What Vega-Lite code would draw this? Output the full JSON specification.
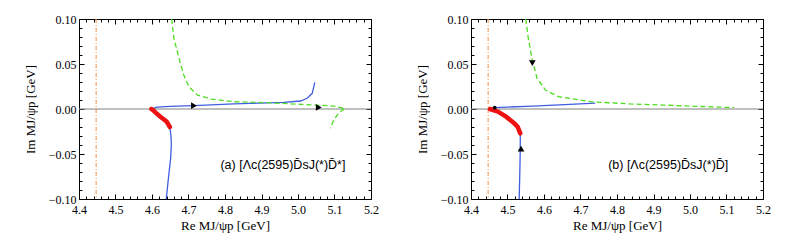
{
  "$schema": "https://vega.github.io/schema/vega-lite/v6.json",
  "background": "white",
  "padding": {"left": 23, "top": 12, "right": 5, "bottom": 5},
  "spacing": 36,
  "datasets": {
    "curves": [
      {"panel": "a", "series": "blue1", "o": 1, "x": 4.639, "y": -0.100},
      {"panel": "a", "series": "blue1", "o": 2, "x": 4.646, "y": -0.073},
      {"panel": "a", "series": "blue1", "o": 3, "x": 4.651, "y": -0.055},
      {"panel": "a", "series": "blue1", "o": 4, "x": 4.653, "y": -0.040},
      {"panel": "a", "series": "blue1", "o": 5, "x": 4.652, "y": -0.030},
      {"panel": "a", "series": "blue1", "o": 6, "x": 4.649, "y": -0.020},
      {"panel": "a", "series": "red", "o": 1, "x": 4.649, "y": -0.020},
      {"panel": "a", "series": "red", "o": 2, "x": 4.640, "y": -0.014},
      {"panel": "a", "series": "red", "o": 3, "x": 4.623, "y": -0.0085},
      {"panel": "a", "series": "red", "o": 4, "x": 4.610, "y": -0.004},
      {"panel": "a", "series": "red", "o": 5, "x": 4.602, "y": -0.001},
      {"panel": "a", "series": "red", "o": 6, "x": 4.598, "y": 0.000},
      {"panel": "a", "series": "blue2", "o": 1, "x": 4.598, "y": 0.000},
      {"panel": "a", "series": "blue2", "o": 2, "x": 4.614, "y": 0.0022},
      {"panel": "a", "series": "blue2", "o": 3, "x": 4.650, "y": 0.0030},
      {"panel": "a", "series": "blue2", "o": 4, "x": 4.715, "y": 0.0037},
      {"panel": "a", "series": "blue2", "o": 5, "x": 4.824, "y": 0.0056},
      {"panel": "a", "series": "blue2", "o": 6, "x": 4.961, "y": 0.0074},
      {"panel": "a", "series": "blue2", "o": 7, "x": 5.007, "y": 0.0089},
      {"panel": "a", "series": "blue2", "o": 8, "x": 5.025, "y": 0.0119},
      {"panel": "a", "series": "blue2", "o": 9, "x": 5.039, "y": 0.0174},
      {"panel": "a", "series": "blue2", "o": 10, "x": 5.046, "y": 0.0296},
      {"panel": "a", "series": "green1", "o": 1, "x": 4.654, "y": 0.100},
      {"panel": "a", "series": "green1", "o": 2, "x": 4.660, "y": 0.0785},
      {"panel": "a", "series": "green1", "o": 3, "x": 4.674, "y": 0.0563},
      {"panel": "a", "series": "green1", "o": 4, "x": 4.687, "y": 0.0378},
      {"panel": "a", "series": "green1", "o": 5, "x": 4.701, "y": 0.0248},
      {"panel": "a", "series": "green1", "o": 6, "x": 4.724, "y": 0.0156},
      {"panel": "a", "series": "green1", "o": 7, "x": 4.760, "y": 0.0111},
      {"panel": "a", "series": "green1", "o": 8, "x": 4.824, "y": 0.0081},
      {"panel": "a", "series": "green1", "o": 9, "x": 4.915, "y": 0.0070},
      {"panel": "a", "series": "green1", "o": 10, "x": 5.007, "y": 0.0052},
      {"panel": "a", "series": "green1", "o": 11, "x": 5.098, "y": 0.0033},
      {"panel": "a", "series": "green1", "o": 12, "x": 5.127, "y": 0.0007},
      {"panel": "a", "series": "green2", "o": 1, "x": 5.127, "y": 0.0003},
      {"panel": "a", "series": "green2", "o": 2, "x": 5.111, "y": -0.0048},
      {"panel": "a", "series": "green2", "o": 3, "x": 5.098, "y": -0.012},
      {"panel": "a", "series": "green2", "o": 4, "x": 5.089, "y": -0.0215},
      {"panel": "b", "series": "blue1", "o": 1, "x": 4.532, "y": -0.100},
      {"panel": "b", "series": "blue1", "o": 2, "x": 4.534, "y": -0.066},
      {"panel": "b", "series": "blue1", "o": 3, "x": 4.535, "y": -0.045},
      {"panel": "b", "series": "blue1", "o": 4, "x": 4.535, "y": -0.027},
      {"panel": "b", "series": "red", "o": 1, "x": 4.535, "y": -0.027},
      {"panel": "b", "series": "red", "o": 2, "x": 4.528, "y": -0.020},
      {"panel": "b", "series": "red", "o": 3, "x": 4.519, "y": -0.016},
      {"panel": "b", "series": "red", "o": 4, "x": 4.496, "y": -0.0085},
      {"panel": "b", "series": "red", "o": 5, "x": 4.474, "y": -0.003},
      {"panel": "b", "series": "red", "o": 6, "x": 4.452, "y": 0.000},
      {"panel": "b", "series": "blue2", "o": 1, "x": 4.452, "y": 0.000},
      {"panel": "b", "series": "blue2", "o": 2, "x": 4.465, "y": 0.0015},
      {"panel": "b", "series": "blue2", "o": 3, "x": 4.568, "y": 0.0033},
      {"panel": "b", "series": "blue2", "o": 4, "x": 4.657, "y": 0.0048},
      {"panel": "b", "series": "blue2", "o": 5, "x": 4.740, "y": 0.0065},
      {"panel": "b", "series": "green1", "o": 1, "x": 4.550, "y": 0.100},
      {"panel": "b", "series": "green1", "o": 2, "x": 4.557, "y": 0.0785},
      {"panel": "b", "series": "green1", "o": 3, "x": 4.568, "y": 0.0544},
      {"panel": "b", "series": "green1", "o": 4, "x": 4.581, "y": 0.034},
      {"panel": "b", "series": "green1", "o": 5, "x": 4.604, "y": 0.0211},
      {"panel": "b", "series": "green1", "o": 6, "x": 4.639, "y": 0.0137},
      {"panel": "b", "series": "green1", "o": 7, "x": 4.729, "y": 0.0081},
      {"panel": "b", "series": "green1", "o": 8, "x": 4.836, "y": 0.0056},
      {"panel": "b", "series": "green1", "o": 9, "x": 4.925, "y": 0.0044},
      {"panel": "b", "series": "green1", "o": 10, "x": 5.014, "y": 0.0030},
      {"panel": "b", "series": "green1", "o": 11, "x": 5.121, "y": 0.0015}
    ],
    "marks": [
      {"panel": "a", "x": 4.715, "y": 0.0037, "shape": "triangle-right"},
      {"panel": "a", "x": 5.057, "y": 0.0018, "shape": "triangle-right"},
      {"panel": "b", "x": 4.537, "y": -0.044, "shape": "triangle-up"},
      {"panel": "b", "x": 4.568, "y": 0.051, "shape": "triangle-down"}
    ],
    "dots": [
      {"panel": "b", "x": 4.465, "y": 0.0015}
    ],
    "vlines": [
      {"panel": "a", "x": 4.447},
      {"panel": "b", "x": 4.447}
    ],
    "hlines": [
      {"panel": "a", "y": 0},
      {"panel": "b", "y": 0}
    ],
    "labels": [
      {"panel": "a", "x": 5.13, "y": -0.062, "text": "(a) [Λc(2595)D̄sJ(*)D̄*]"},
      {"panel": "b", "x": 5.105, "y": -0.062, "text": "(b) [Λc(2595)D̄sJ(*)D̄]"}
    ]
  },
  "hconcat": [
    {
      "width": 292, "height": 180,
      "resolve": {"axis": {"x": "independent", "y": "independent"}},
      "layer": [
        {
          "data": {"name": "vlines"},
          "transform": [{"filter": "datum.panel === 'a'"}],
          "mark": {"type": "rule", "color": "#f2a068", "strokeWidth": 1.2, "strokeDash": [4, 2, 1, 2]},
          "encoding": {
            "x": {"field": "x", "type": "quantitative", "scale": {"domain": [4.4, 5.2], "nice": false, "zero": false},
              "axis": {"orient": "top", "labels": false, "title": null,
                "values": [4.4,4.42,4.44,4.46,4.48,4.5,4.52,4.54,4.56,4.58,4.6,4.62,4.64,4.66,4.68,4.7,4.72,4.74,4.76,4.78,4.8,4.82,4.84,4.86,4.88,4.9,4.92,4.94,4.96,4.98,5.0,5.02,5.04,5.06,5.08,5.1,5.12,5.14,5.16,5.18,5.2],
                "tickSize": {"condition": {"test": "abs(datum.value*10-round(datum.value*10))<0.001", "value": -5}, "value": -3}}}
          }
        },
        {
          "data": {"name": "hlines"},
          "transform": [{"filter": "datum.panel === 'a'"}],
          "mark": {"type": "rule", "color": "#808080", "strokeWidth": 1},
          "encoding": {
            "y": {"field": "y", "type": "quantitative", "scale": {"domain": [-0.1, 0.1], "nice": false, "zero": false},
              "axis": {"orient": "right", "labels": false, "title": null,
                "values": [-0.1,-0.09,-0.08,-0.07,-0.06,-0.05,-0.04,-0.03,-0.02,-0.01,0,0.01,0.02,0.03,0.04,0.05,0.06,0.07,0.08,0.09,0.1],
                "tickSize": {"condition": {"test": "abs(datum.value*20-round(datum.value*20))<0.001", "value": -5}, "value": -3}}}
          }
        },
        {
          "data": {"name": "curves"},
          "transform": [{"filter": "datum.panel === 'a' && (datum.series === 'blue1' || datum.series === 'blue2')"}],
          "mark": {"type": "line", "clip": true, "color": "#3f5fe0", "strokeWidth": 1.3},
          "encoding": {
            "x": {"field": "x", "type": "quantitative", "scale": {"domain": [4.4, 5.2], "nice": false, "zero": false},
              "axis": {"orient": "bottom", "title": "Re MJ/ψp [GeV]",
                "values": [4.4,4.42,4.44,4.46,4.48,4.5,4.52,4.54,4.56,4.58,4.6,4.62,4.64,4.66,4.68,4.7,4.72,4.74,4.76,4.78,4.8,4.82,4.84,4.86,4.88,4.9,4.92,4.94,4.96,4.98,5.0,5.02,5.04,5.06,5.08,5.1,5.12,5.14,5.16,5.18,5.2],
                "labelExpr": "abs(datum.value*10-round(datum.value*10))<0.001 ? format(datum.value, '.1f') : ''",
                "tickSize": {"condition": {"test": "abs(datum.value*10-round(datum.value*10))<0.001", "value": -5}, "value": -3}}},
            "y": {"field": "y", "type": "quantitative", "scale": {"domain": [-0.1, 0.1], "nice": false, "zero": false},
              "axis": {"orient": "left", "title": "Im MJ/ψp [GeV]", "titlePadding": 11,
                "values": [-0.1,-0.09,-0.08,-0.07,-0.06,-0.05,-0.04,-0.03,-0.02,-0.01,0,0.01,0.02,0.03,0.04,0.05,0.06,0.07,0.08,0.09,0.1],
                "labelExpr": "abs(datum.value*20-round(datum.value*20))<0.001 ? format(datum.value, '.2f') : ''",
                "tickSize": {"condition": {"test": "abs(datum.value*20-round(datum.value*20))<0.001", "value": -5}, "value": -3}}},
            "detail": {"field": "series", "type": "nominal"},
            "order": {"field": "o", "type": "quantitative"}
          }
        },
        {
          "data": {"name": "curves"},
          "transform": [{"filter": "datum.panel === 'a' && (datum.series === 'green1' || datum.series === 'green2')"}],
          "mark": {"type": "line", "clip": true, "color": "#4ddc22", "strokeWidth": 1.3, "strokeDash": [5, 3]},
          "encoding": {
            "x": {"field": "x", "type": "quantitative", "axis": null},
            "y": {"field": "y", "type": "quantitative", "axis": null},
            "detail": {"field": "series", "type": "nominal"},
            "order": {"field": "o", "type": "quantitative"}
          }
        },
        {
          "data": {"name": "curves"},
          "transform": [{"filter": "datum.panel === 'a' && datum.series === 'red'"}],
          "mark": {"type": "line", "clip": true, "color": "#ee1111", "strokeWidth": 4.5, "strokeCap": "round"},
          "encoding": {
            "x": {"field": "x", "type": "quantitative", "axis": null},
            "y": {"field": "y", "type": "quantitative", "axis": null},
            "order": {"field": "o", "type": "quantitative"}
          }
        },
        {
          "data": {"name": "marks"},
          "transform": [{"filter": "datum.panel === 'a'"}],
          "mark": {"type": "point", "filled": true, "color": "black", "opacity": 1, "size": 45},
          "encoding": {
            "x": {"field": "x", "type": "quantitative", "axis": null},
            "y": {"field": "y", "type": "quantitative", "axis": null},
            "shape": {"field": "shape", "type": "nominal", "scale": null, "legend": null}
          }
        },
        {
          "data": {"name": "labels"},
          "transform": [{"filter": "datum.panel === 'a'"}],
          "mark": {"type": "text", "align": "right", "baseline": "middle", "font": "Liberation Sans", "fontSize": 12.5, "color": "black"},
          "encoding": {
            "x": {"field": "x", "type": "quantitative", "axis": null},
            "y": {"field": "y", "type": "quantitative", "axis": null},
            "text": {"field": "text"}
          }
        }
      ]
    },
    {
      "width": 292, "height": 180,
      "resolve": {"axis": {"x": "independent", "y": "independent"}},
      "layer": [
        {
          "data": {"name": "vlines"},
          "transform": [{"filter": "datum.panel === 'b'"}],
          "mark": {"type": "rule", "color": "#f2a068", "strokeWidth": 1.2, "strokeDash": [4, 2, 1, 2]},
          "encoding": {
            "x": {"field": "x", "type": "quantitative", "scale": {"domain": [4.4, 5.2], "nice": false, "zero": false},
              "axis": {"orient": "top", "labels": false, "title": null,
                "values": [4.4,4.42,4.44,4.46,4.48,4.5,4.52,4.54,4.56,4.58,4.6,4.62,4.64,4.66,4.68,4.7,4.72,4.74,4.76,4.78,4.8,4.82,4.84,4.86,4.88,4.9,4.92,4.94,4.96,4.98,5.0,5.02,5.04,5.06,5.08,5.1,5.12,5.14,5.16,5.18,5.2],
                "tickSize": {"condition": {"test": "abs(datum.value*10-round(datum.value*10))<0.001", "value": -5}, "value": -3}}}
          }
        },
        {
          "data": {"name": "hlines"},
          "transform": [{"filter": "datum.panel === 'b'"}],
          "mark": {"type": "rule", "color": "#808080", "strokeWidth": 1},
          "encoding": {
            "y": {"field": "y", "type": "quantitative", "scale": {"domain": [-0.1, 0.1], "nice": false, "zero": false},
              "axis": {"orient": "right", "labels": false, "title": null,
                "values": [-0.1,-0.09,-0.08,-0.07,-0.06,-0.05,-0.04,-0.03,-0.02,-0.01,0,0.01,0.02,0.03,0.04,0.05,0.06,0.07,0.08,0.09,0.1],
                "tickSize": {"condition": {"test": "abs(datum.value*20-round(datum.value*20))<0.001", "value": -5}, "value": -3}}}
          }
        },
        {
          "data": {"name": "curves"},
          "transform": [{"filter": "datum.panel === 'b' && (datum.series === 'blue1' || datum.series === 'blue2')"}],
          "mark": {"type": "line", "clip": true, "color": "#3f5fe0", "strokeWidth": 1.3},
          "encoding": {
            "x": {"field": "x", "type": "quantitative", "scale": {"domain": [4.4, 5.2], "nice": false, "zero": false},
              "axis": {"orient": "bottom", "title": "Re MJ/ψp [GeV]",
                "values": [4.4,4.42,4.44,4.46,4.48,4.5,4.52,4.54,4.56,4.58,4.6,4.62,4.64,4.66,4.68,4.7,4.72,4.74,4.76,4.78,4.8,4.82,4.84,4.86,4.88,4.9,4.92,4.94,4.96,4.98,5.0,5.02,5.04,5.06,5.08,5.1,5.12,5.14,5.16,5.18,5.2],
                "labelExpr": "abs(datum.value*10-round(datum.value*10))<0.001 ? format(datum.value, '.1f') : ''",
                "tickSize": {"condition": {"test": "abs(datum.value*10-round(datum.value*10))<0.001", "value": -5}, "value": -3}}},
            "y": {"field": "y", "type": "quantitative", "scale": {"domain": [-0.1, 0.1], "nice": false, "zero": false},
              "axis": {"orient": "left", "title": "Im MJ/ψp [GeV]", "titlePadding": 11,
                "values": [-0.1,-0.09,-0.08,-0.07,-0.06,-0.05,-0.04,-0.03,-0.02,-0.01,0,0.01,0.02,0.03,0.04,0.05,0.06,0.07,0.08,0.09,0.1],
                "labelExpr": "abs(datum.value*20-round(datum.value*20))<0.001 ? format(datum.value, '.2f') : ''",
                "tickSize": {"condition": {"test": "abs(datum.value*20-round(datum.value*20))<0.001", "value": -5}, "value": -3}}},
            "detail": {"field": "series", "type": "nominal"},
            "order": {"field": "o", "type": "quantitative"}
          }
        },
        {
          "data": {"name": "curves"},
          "transform": [{"filter": "datum.panel === 'b' && (datum.series === 'green1' || datum.series === 'green2')"}],
          "mark": {"type": "line", "clip": true, "color": "#4ddc22", "strokeWidth": 1.3, "strokeDash": [5, 3]},
          "encoding": {
            "x": {"field": "x", "type": "quantitative", "axis": null},
            "y": {"field": "y", "type": "quantitative", "axis": null},
            "detail": {"field": "series", "type": "nominal"},
            "order": {"field": "o", "type": "quantitative"}
          }
        },
        {
          "data": {"name": "curves"},
          "transform": [{"filter": "datum.panel === 'b' && datum.series === 'red'"}],
          "mark": {"type": "line", "clip": true, "color": "#ee1111", "strokeWidth": 4.5, "strokeCap": "round"},
          "encoding": {
            "x": {"field": "x", "type": "quantitative", "axis": null},
            "y": {"field": "y", "type": "quantitative", "axis": null},
            "order": {"field": "o", "type": "quantitative"}
          }
        },
        {
          "data": {"name": "marks"},
          "transform": [{"filter": "datum.panel === 'b'"}],
          "mark": {"type": "point", "filled": true, "color": "black", "opacity": 1, "size": 45},
          "encoding": {
            "x": {"field": "x", "type": "quantitative", "axis": null},
            "y": {"field": "y", "type": "quantitative", "axis": null},
            "shape": {"field": "shape", "type": "nominal", "scale": null, "legend": null}
          }
        },
        {
          "data": {"name": "dots"},
          "transform": [{"filter": "datum.panel === 'b'"}],
          "mark": {"type": "point", "filled": true, "color": "black", "opacity": 1, "size": 14, "shape": "circle"},
          "encoding": {
            "x": {"field": "x", "type": "quantitative", "axis": null},
            "y": {"field": "y", "type": "quantitative", "axis": null}
          }
        },
        {
          "data": {"name": "labels"},
          "transform": [{"filter": "datum.panel === 'b'"}],
          "mark": {"type": "text", "align": "right", "baseline": "middle", "font": "Liberation Sans", "fontSize": 12.5, "color": "black"},
          "encoding": {
            "x": {"field": "x", "type": "quantitative", "axis": null},
            "y": {"field": "y", "type": "quantitative", "axis": null},
            "text": {"field": "text"}
          }
        }
      ]
    }
  ],
  "config": {
    "view": {"stroke": "black", "strokeWidth": 1},
    "axis": {
      "labelFont": "Liberation Serif", "titleFont": "Liberation Serif",
      "labelFontSize": 12, "titleFontSize": 13, "titleFontWeight": "normal",
      "labelColor": "black", "titleColor": "black", "tickColor": "black",
      "domain": false, "grid": false, "labelFlush": false, "labelPadding": 8, "tickWidth": 1
    },
    "axisX": {"titlePadding": 4, "labelPadding": 10}
  }
}
